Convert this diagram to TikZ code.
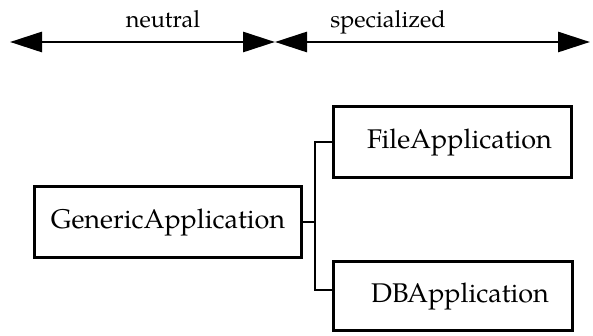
\documentclass[tikz,border=0pt]{standalone}
\usepackage{fontspec}
\setmainfont{TeX Gyre Pagella}
\usetikzlibrary{arrows.meta}
\begin{document}
\begin{tikzpicture}[x=1pt,y=-1pt,
  classbox/.style={draw, line width=3.2pt, inner sep=0pt,
    font=\fontsize{27}{30}\selectfont},
  rangearrow/.style={line width=2.8pt,
    {Triangle[length=32pt,width=20pt]}-{Triangle[length=32pt,width=20pt]}},
  rangelabel/.style={anchor=base, font=\fontsize{23.5}{28}\selectfont},
  link/.style={line width=2.8pt},
]
\useasboundingbox (0,0) rectangle (593,336);

% scale of generality
\coordinate (nl) at (10,42);
\coordinate (mid) at (275,42);
\coordinate (sr) at (590,42);
\draw[rangearrow] (nl) -- (mid);
\draw[rangearrow] (mid) -- (sr);
\node[rangelabel] (neutral) at (163,28) {neutral};
\node[rangelabel] (special) at (388,28) {specialized};

% class hierarchy
\node[classbox, minimum width=267pt, minimum height=70.5pt] (gen) at (168,222) {GenericApplication};
\node[classbox, minimum width=238pt, minimum height=71pt] (file) at (452.5,142) {\hspace*{14pt}FileApplication};
\node[classbox, minimum width=238.5pt, minimum height=69.5pt] (db) at (453,296) {\hspace*{14pt}DBApplication};

\coordinate (trunk) at (315,0);
\coordinate (dbjoin) at ([yshift=6pt]db.west);
\draw[link] (file.west) -- (file.west -| trunk) -- (dbjoin -| trunk) -- (dbjoin);
\draw[link] (gen.east) -- (gen.east -| trunk);
\end{tikzpicture}
\end{document}
